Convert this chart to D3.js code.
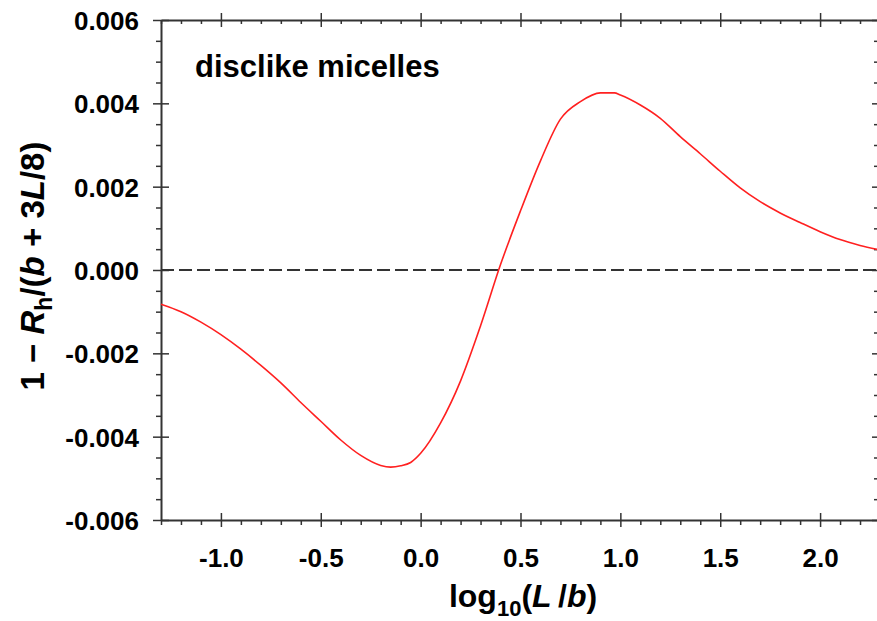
<!DOCTYPE html>
<html>
<head>
<meta charset="utf-8">
<script src="https://cdn.jsdelivr.net/npm/d3@7"></script>
<style>
  html, body { margin: 0; padding: 0; background: #fff; }
  svg { display: block; font-family: "Liberation Sans", Arial, Helvetica, sans-serif; }
</style>
</head>
<body>
<svg id="chart" width="877" height="621"></svg>
<script>
// ---- data ----
const logLb = [-1.3, -1.2, -1.1, -1.0, -0.9, -0.8, -0.7, -0.6, -0.5, -0.4, -0.3, -0.2, -0.15, -0.1, -0.05,
  0.0, 0.1, 0.2, 0.3, 0.4, 0.5, 0.6, 0.7, 0.8, 0.9, 0.97, 1.0, 1.1, 1.2, 1.3, 1.4, 1.5, 1.6, 1.7, 1.8, 1.9,
  2.0, 2.1, 2.2, 2.3];
const deviation = [-0.00082, -0.00100, -0.00125, -0.00155, -0.00190, -0.00229, -0.00271, -0.00318, -0.00363,
  -0.00408, -0.00445, -0.00469, -0.00473, -0.00470, -0.00462,
  -0.00440, -0.00367, -0.00266, -0.00134, 0.00013, 0.00142, 0.00262, 0.00362, 0.00404, 0.00425, 0.00425,
  0.00420, 0.00396, 0.00364, 0.00320, 0.00279, 0.00237, 0.00197, 0.00164, 0.00137, 0.00114,
  0.00092, 0.00073, 0.00059, 0.00048];

const xTicks = [-1.0, -0.5, 0.0, 0.5, 1.0, 1.5, 2.0];
const xTickLabels = ["-1.0", "-0.5", "0.0", "0.5", "1.0", "1.5", "2.0"];
const yTicks = [-0.006, -0.004, -0.002, 0.000, 0.002, 0.004, 0.006];
const yTickLabels = ["-0.006", "-0.004", "-0.002", "0.000", "0.002", "0.004", "0.006"];
const xMinorStep = 0.1;
const yMinorStep = 0.0005;
const xDomain = [-1.3, 2.3];
const yDomain = [-0.006, 0.006];
const annotation = "disclike micelles";

// ---- layout ----
const svg = d3.select("#chart");
const pLeft = 161, pRight = 880, pTop = 20, pBottom = 520;
const axisColor = "#333";

const x = d3.scaleLinear().domain(xDomain).range([pLeft, pRight]);
const y = d3.scaleLinear().domain(yDomain).range([pBottom, pTop]);

const xMinor = d3.range(Math.round((xDomain[1]-xDomain[0])/xMinorStep)+1)
  .map(i => +(xDomain[0] + i*xMinorStep).toFixed(3))
  .filter(v => !xTicks.some(t => Math.abs(t - v) < 1e-9));
const yMinor = d3.range(Math.round((yDomain[1]-yDomain[0])/yMinorStep)+1)
  .map(i => +(yDomain[0] + i*yMinorStep).toFixed(6))
  .filter(v => !yTicks.some(t => Math.abs(t - v) < 1e-12));

function styleAxis(g) {
  g.select(".domain").attr("stroke", axisColor).attr("stroke-width", 2);
  g.selectAll(".tick line").attr("stroke", axisColor).attr("stroke-width", 1.5);
  g.selectAll("text").attr("fill", "#000").attr("font-size", 26).attr("font-weight", "bold")
    .attr("font-family", "'Liberation Sans', Arial, sans-serif");
}

// zero dashed line
svg.append("line")
  .attr("x1", x(xDomain[0])).attr("x2", x(xDomain[1]))
  .attr("y1", y(0)).attr("y2", y(0))
  .attr("stroke", axisColor).attr("stroke-width", 2)
  .attr("stroke-dasharray", "13,5");

// minor ticks
[["bottom", pBottom], ["top", pTop]].forEach(([name, pos]) => {
  const g = svg.append("g").attr("transform", `translate(0,${pos})`)
    .call(d3.axisBottom(x).tickValues(xMinor).tickSize(5).tickSizeOuter(0).tickFormat(""));
  g.select(".domain").remove();
  g.selectAll(".tick line").attr("stroke", axisColor).attr("stroke-width", 1.5)
    .attr("y1", 0).attr("y2", name === "top" ? 4 : 5);
});
[["left", pLeft], ["right", pRight]].forEach(([name, pos]) => {
  const g = svg.append("g").attr("transform", `translate(${pos},0)`)
    .call(d3.axisLeft(y).tickValues(yMinor).tickSize(5).tickSizeOuter(0).tickFormat(""));
  g.select(".domain").remove();
  g.selectAll(".tick line").attr("stroke", axisColor).attr("stroke-width", 1.5)
    .attr("x2", name === "right" ? -6 : -5);
});

// major axes
const xAxisBottom = svg.append("g").attr("transform", `translate(0,${pBottom})`)
  .call(d3.axisBottom(x).tickValues(xTicks).tickSize(7).tickSizeOuter(0)
    .tickFormat((d, i) => xTickLabels[i]));
styleAxis(xAxisBottom);
xAxisBottom.selectAll(".tick line").attr("y1", -7);
xAxisBottom.selectAll("text").attr("y", 47).attr("dy", 0);

const xAxisTop = svg.append("g").attr("transform", `translate(0,${pTop})`)
  .call(d3.axisBottom(x).tickValues(xTicks).tickSize(7).tickSizeOuter(0).tickFormat(""));
styleAxis(xAxisTop);
xAxisTop.selectAll(".tick line").attr("y1", -7);

const yAxisLeft = svg.append("g").attr("transform", `translate(${pLeft},0)`)
  .call(d3.axisLeft(y).tickValues(yTicks).tickSize(8).tickSizeOuter(0)
    .tickFormat((d, i) => yTickLabels[i]));
styleAxis(yAxisLeft);
yAxisLeft.selectAll(".tick line").attr("x1", 8);
yAxisLeft.selectAll("text").attr("x", -22).attr("dy", "0.36em");

const yAxisRight = svg.append("g").attr("transform", `translate(${pRight},0)`)
  .call(d3.axisLeft(y).tickValues(yTicks).tickSize(8).tickSizeOuter(0).tickFormat(""));
styleAxis(yAxisRight);
yAxisRight.selectAll(".tick line").attr("x1", 8);

// curve
const pts = logLb.map((v, i) => [v, deviation[i]]);
const line = d3.line().x(d => x(d[0])).y(d => y(d[1])).curve(d3.curveMonotoneX);
svg.append("path").datum(pts)
  .attr("d", line)
  .attr("fill", "none")
  .attr("stroke", "#ff2020")
  .attr("stroke-width", 1.6);

// annotation
svg.append("text")
  .attr("x", 195).attr("y", 77)
  .attr("font-size", 31).attr("font-weight", "bold").attr("fill", "#000")
  .text(annotation);

// x label
const xl = svg.append("text")
  .attr("x", 523).attr("y", 607)
  .attr("text-anchor", "middle")
  .attr("font-size", 32).attr("font-weight", "bold").attr("fill", "#000");
xl.append("tspan").text("log");
xl.append("tspan").attr("font-size", 22).attr("dy", 9).text("10");
xl.append("tspan").attr("dy", -9).text("(");
xl.append("tspan").attr("font-style", "italic").text("L");
xl.append("tspan").text("\u2009/");
xl.append("tspan").attr("font-style", "italic").text("b");
xl.append("tspan").text(")");

// y label
const yl = svg.append("text")
  .attr("transform", "translate(44,266) rotate(-90)")
  .attr("text-anchor", "middle")
  .attr("font-size", 33).attr("font-weight", "bold").attr("fill", "#000");
yl.append("tspan").text("1 \u2212 ");
yl.append("tspan").attr("font-style", "italic").text("R");
yl.append("tspan").attr("font-size", 23).attr("dy", 8).text("h");
yl.append("tspan").attr("dy", -8).text("/(");
yl.append("tspan").attr("font-style", "italic").text("b");
yl.append("tspan").text(" + 3");
yl.append("tspan").attr("font-style", "italic").text("L");
yl.append("tspan").text("/8)");
</script>
</body>
</html>
